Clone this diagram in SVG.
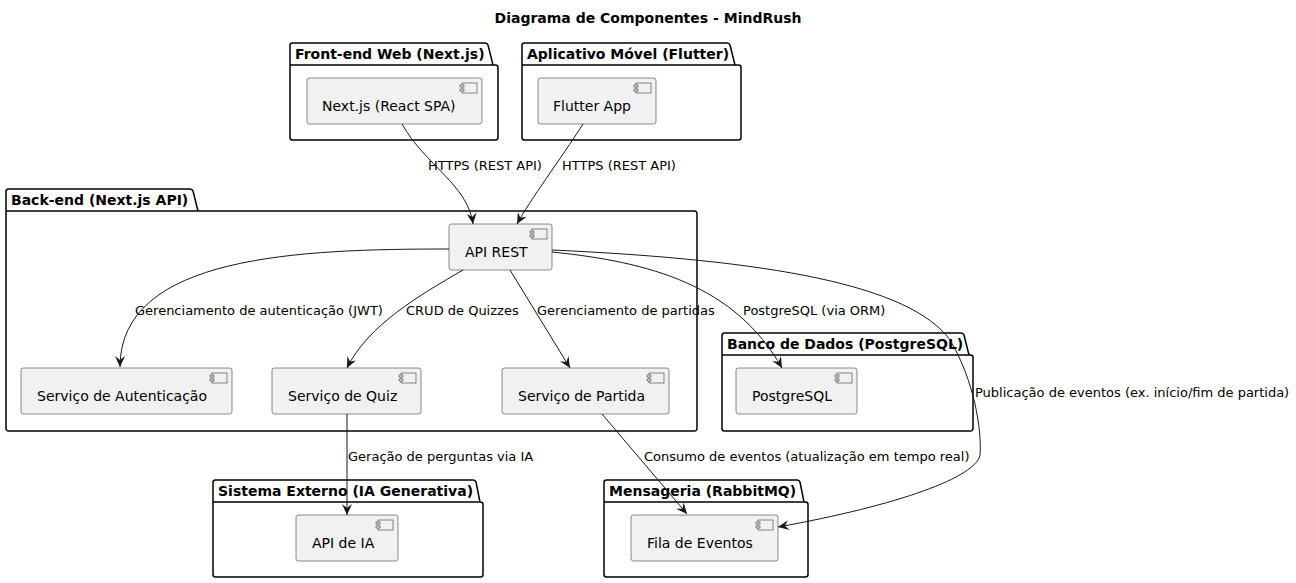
<svg xmlns="http://www.w3.org/2000/svg" width="1296" height="583" viewBox="0 0 1296 583">
<defs>
<style>
.pkg{fill:none;stroke:#000;stroke-width:1.5}
.pt{font-family:"DejaVu Sans",sans-serif;font-size:14px;font-weight:bold;fill:#000}
.cmp{fill:#F1F1F1;stroke:#181818;stroke-width:0.5}
.ic{fill:#F1F1F1;stroke:#181818;stroke-width:0.5}
.ct{font-family:"DejaVu Sans",sans-serif;font-size:14px;fill:#000}
.lt{font-family:"DejaVu Sans",sans-serif;font-size:13px;fill:#000}
.cn{fill:none;stroke:#181818;stroke-width:1}
</style>
<marker id="ah" viewBox="0 0 11 10" refX="11" refY="5" markerWidth="11" markerHeight="10" markerUnits="userSpaceOnUse" orient="auto">
<path d="M0,0 L11,5 L0,10 L4,5 Z" fill="#181818"/>
</marker>
<symbol id="icon" overflow="visible">
<rect class="ic" x="2" y="0" width="15" height="10"/>
<rect class="ic" x="0" y="2" width="4" height="2"/>
<rect class="ic" x="0" y="6" width="4" height="2"/>
</symbol>
</defs>
<rect width="1296" height="583" fill="#fff"/>
<text x="648" y="23" text-anchor="middle" class="pt">Diagrama de Componentes - MindRush</text>

<g id="pkg-frontend">
<path class="pkg" d="M292.5,43 L485,43 A3,3 0 0 1 488,45 L493,65 L495.5,65 A2.5,2.5 0 0 1 498,67.5 L498,137.5 A2.5,2.5 0 0 1 495.5,140 L292.5,140 A2.5,2.5 0 0 1 290,137.5 L290,45.5 A2.5,2.5 0 0 1 292.5,43 Z M290,65 L493,65"/>
<text x="295" y="59" class="pt">Front-end Web (Next.js)</text>
</g>
<g id="pkg-mobile">
<path class="pkg" d="M524.5,43 L727,43 A3,3 0 0 1 730,45 L735,65 L738.5,65 A2.5,2.5 0 0 1 741,67.5 L741,137.5 A2.5,2.5 0 0 1 738.5,140 L524.5,140 A2.5,2.5 0 0 1 522,137.5 L522,45.5 A2.5,2.5 0 0 1 524.5,43 Z M522,65 L735,65"/>
<text x="527" y="59" class="pt">Aplicativo Móvel (Flutter)</text>
</g>
<g id="pkg-backend">
<path class="pkg" d="M8.5,189 L190,189 A3,3 0 0 1 193,191 L198,211 L694.5,211 A2.5,2.5 0 0 1 697,213.5 L697,428.5 A2.5,2.5 0 0 1 694.5,431 L8.5,431 A2.5,2.5 0 0 1 6,428.5 L6,191.5 A2.5,2.5 0 0 1 8.5,189 Z M6,211 L198,211"/>
<text x="11" y="205" class="pt">Back-end (Next.js API)</text>
</g>
<g id="pkg-db">
<path class="pkg" d="M724.5,333 L961,333 A3,3 0 0 1 964,335 L969,355 L970.5,355 A2.5,2.5 0 0 1 973,357.5 L973,428.5 A2.5,2.5 0 0 1 970.5,431 L724.5,431 A2.5,2.5 0 0 1 722,428.5 L722,335.5 A2.5,2.5 0 0 1 724.5,333 Z M722,355 L969,355"/>
<text x="727" y="349" class="pt">Banco de Dados (PostgreSQL)</text>
</g>
<g id="pkg-ext">
<path class="pkg" d="M215.5,480 L473,480 A3,3 0 0 1 476,482 L480,502 L480.5,502 A2.5,2.5 0 0 1 483,504.5 L483,574.5 A2.5,2.5 0 0 1 480.5,577 L215.5,577 A2.5,2.5 0 0 1 213,574.5 L213,482.5 A2.5,2.5 0 0 1 215.5,480 Z M213,502 L480,502"/>
<text x="218" y="496" class="pt">Sistema Externo (IA Generativa)</text>
</g>
<g id="pkg-mq">
<path class="pkg" d="M606.5,480 L797,480 A3,3 0 0 1 800,482 L804,502 L805.5,502 A2.5,2.5 0 0 1 808,504.5 L808,574.5 A2.5,2.5 0 0 1 805.5,577 L606.5,577 A2.5,2.5 0 0 1 604,574.5 L604,482.5 A2.5,2.5 0 0 1 606.5,480 Z M604,502 L804,502"/>
<text x="609" y="496" class="pt">Mensageria (RabbitMQ)</text>
</g>

<g id="nextjs">
<rect class="cmp" x="307" y="78" width="175" height="46" rx="2.5"/>
<use href="#icon" x="460" y="83"/>
<text x="322" y="111" class="ct">Next.js (React SPA)</text>
</g>
<g id="flutter">
<rect class="cmp" x="538" y="78" width="118" height="46" rx="2.5"/>
<use href="#icon" x="634" y="83"/>
<text x="553" y="111" class="ct">Flutter App</text>
</g>
<g id="apirest">
<rect class="cmp" x="449" y="224" width="103" height="46" rx="2.5"/>
<use href="#icon" x="530" y="229"/>
<text x="465" y="257" class="ct">API REST</text>
</g>
<g id="auth">
<rect class="cmp" x="21" y="368" width="211" height="46" rx="2.5"/>
<use href="#icon" x="210" y="373"/>
<text x="37" y="401" class="ct">Serviço de Autenticação</text>
</g>
<g id="quiz">
<rect class="cmp" x="272" y="368" width="149" height="46" rx="2.5"/>
<use href="#icon" x="399" y="373"/>
<text x="288" y="401" class="ct">Serviço de Quiz</text>
</g>
<g id="partida">
<rect class="cmp" x="502" y="368" width="167" height="46" rx="2.5"/>
<use href="#icon" x="647" y="373"/>
<text x="518" y="401" class="ct">Serviço de Partida</text>
</g>
<g id="postgres">
<rect class="cmp" x="736" y="368" width="121" height="46" rx="2.5"/>
<use href="#icon" x="835" y="373"/>
<text x="752" y="401" class="ct">PostgreSQL</text>
</g>
<g id="apiia">
<rect class="cmp" x="296" y="515" width="102" height="46" rx="2.5"/>
<use href="#icon" x="376" y="520"/>
<text x="312" y="548" class="ct">API de IA</text>
</g>
<g id="fila">
<rect class="cmp" x="631" y="515" width="147" height="46" rx="2.5"/>
<use href="#icon" x="756" y="520"/>
<text x="647" y="548" class="ct">Fila de Eventos</text>
</g>

<g id="connectors">
<path class="cn" marker-end="url(#ah)" d="M402,124 C425,165 468,185 473,224"/>
<path class="cn" marker-end="url(#ah)" d="M583,124 C560,160 530,200 517,224"/>
<path class="cn" marker-end="url(#ah)" d="M449,249 C300,249 120,255 120,367"/>
<path class="cn" marker-end="url(#ah)" d="M463,270 C420,295 368,325 347,368"/>
<path class="cn" marker-end="url(#ah)" d="M510,270 L570,368"/>
<path class="cn" marker-end="url(#ah)" d="M552,252 C650,262 735,285 782,368"/>
<path class="cn" marker-end="url(#ah)" d="M552,250 C770,260 910,285 950,340 C974,380 982,430 980,455 C976,477 900,505 778,527"/>
<path class="cn" marker-end="url(#ah)" d="M347,414 L347,515"/>
<path class="cn" marker-end="url(#ah)" d="M602,414 L687,514"/>
<text x="428" y="170" class="lt">HTTPS (REST API)</text>
<text x="562" y="170" class="lt">HTTPS (REST API)</text>
<text x="135" y="315" class="lt">Gerenciamento de autenticação (JWT)</text>
<text x="406" y="315" class="lt">CRUD de Quizzes</text>
<text x="537" y="315" class="lt">Gerenciamento de partidas</text>
<text x="743" y="315" class="lt">PostgreSQL (via ORM)</text>
<text x="975" y="397" class="lt">Publicação de eventos (ex. início/fim de partida)</text>
<text x="348" y="461" class="lt">Geração de perguntas via IA</text>
<text x="644" y="461" class="lt">Consumo de eventos (atualização em tempo real)</text>
</g>
</svg>
